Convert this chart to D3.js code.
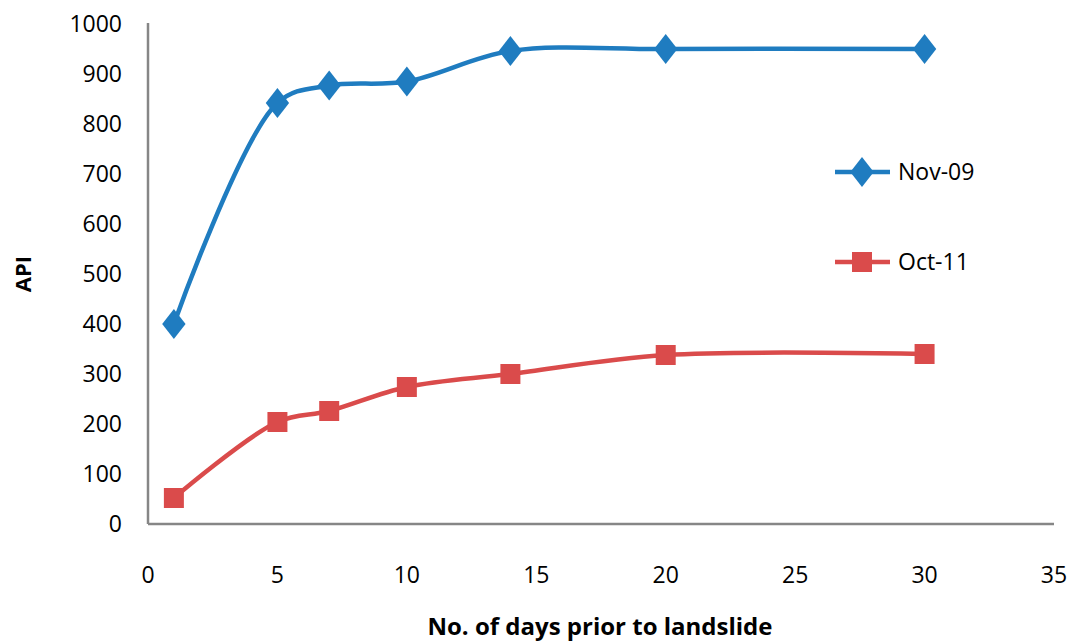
<!DOCTYPE html>
<html><head><meta charset="utf-8">
<script src="https://cdn.jsdelivr.net/npm/d3@7"></script>
<style>body{margin:0;background:#fff}svg{display:block}text{font-family:"Open Sans","Noto Sans",sans-serif}</style>
</head><body>
<svg id="c" width="1072" height="642"></svg>
<script>
const days = [1, 5, 7, 10, 14, 20, 30];
const nov09 = [400, 842, 877, 885, 946, 950, 950];
const oct11 = [52, 204, 226, 274, 300, 338, 340];
const seriesNames = ["Nov-09", "Oct-11"];
const xTicks = [0, 5, 10, 15, 20, 25, 30, 35];
const yTicks = [0, 100, 200, 300, 400, 500, 600, 700, 800, 900, 1000];

const svg = d3.select("#c");
const x = d3.scaleLinear().domain([0, 35]).range([148, 1054]);
const y = d3.scaleLinear().domain([0, 1000]).range([524, 24]);

svg.append("line").attr("x1", x(0)).attr("x2", x(0)).attr("y1", y(1000) - 1).attr("y2", y(0))
  .attr("stroke", "#868686").attr("stroke-width", 2.5);
svg.append("line").attr("x1", x(0)).attr("x2", x(35)).attr("y1", y(0)).attr("y2", y(0))
  .attr("stroke", "#868686").attr("stroke-width", 2.5);

svg.selectAll(".yt").data(yTicks).enter().append("text")
  .attr("x", 122).attr("y", d => y(d)).attr("dy", "0.36em").attr("text-anchor", "end")
  .attr("font-size", 23).attr("fill", "#000").text(d => d);
svg.selectAll(".xt").data(xTicks).enter().append("text")
  .attr("x", d => x(d)).attr("y", 583).attr("text-anchor", "middle")
  .attr("font-size", 23).attr("fill", "#000").text(d => d);

svg.append("text").attr("transform", "translate(31,274) rotate(-90)").attr("text-anchor", "middle")
  .attr("font-size", 22).attr("font-weight", "bold").text("API");
svg.append("text").attr("x", 600).attr("y", 635).attr("text-anchor", "middle")
  .attr("font-size", 24).attr("font-weight", "bold").text("No. of days prior to landslide");

const colors = ["#1F7CC0", "#DA4B4B"];
const data = [nov09, oct11];
const line = d3.line().x((d, i) => x(days[i])).y(d => y(d)).curve(d3.curveCatmullRom.alpha(0.5));

data.forEach((vals, s) => {
  svg.append("path").attr("d", line(vals)).attr("fill", "none")
    .attr("stroke", colors[s]).attr("stroke-width", 4.5);
  const sym = d3.symbol().type(s === 0 ? d3.symbolDiamond : d3.symbolSquare).size(s === 0 ? 260 : 400);
  svg.selectAll(".m" + s).data(vals).enter().append("path")
    .attr("transform", (d, i) => `translate(${x(days[i])},${y(d)})` + (s === 0 ? " scale(1.35,1)" : ""))
    .attr("d", sym()).attr("fill", colors[s]);
});

const legY = [172, 262];
seriesNames.forEach((n, s) => {
  svg.append("line").attr("x1", 835).attr("x2", 890).attr("y1", legY[s]).attr("y2", legY[s])
    .attr("stroke", colors[s]).attr("stroke-width", 4.5);
  const sym = d3.symbol().type(s === 0 ? d3.symbolDiamond : d3.symbolSquare).size(s === 0 ? 260 : 400);
  svg.append("path").attr("transform", `translate(862,${legY[s]})` + (s === 0 ? " scale(1.35,1)" : ""))
    .attr("d", sym()).attr("fill", colors[s]);
  svg.append("text").attr("x", 898).attr("y", legY[s]).attr("dy", "0.36em")
    .attr("font-size", 23).text(n);
});
</script>
</body></html>
